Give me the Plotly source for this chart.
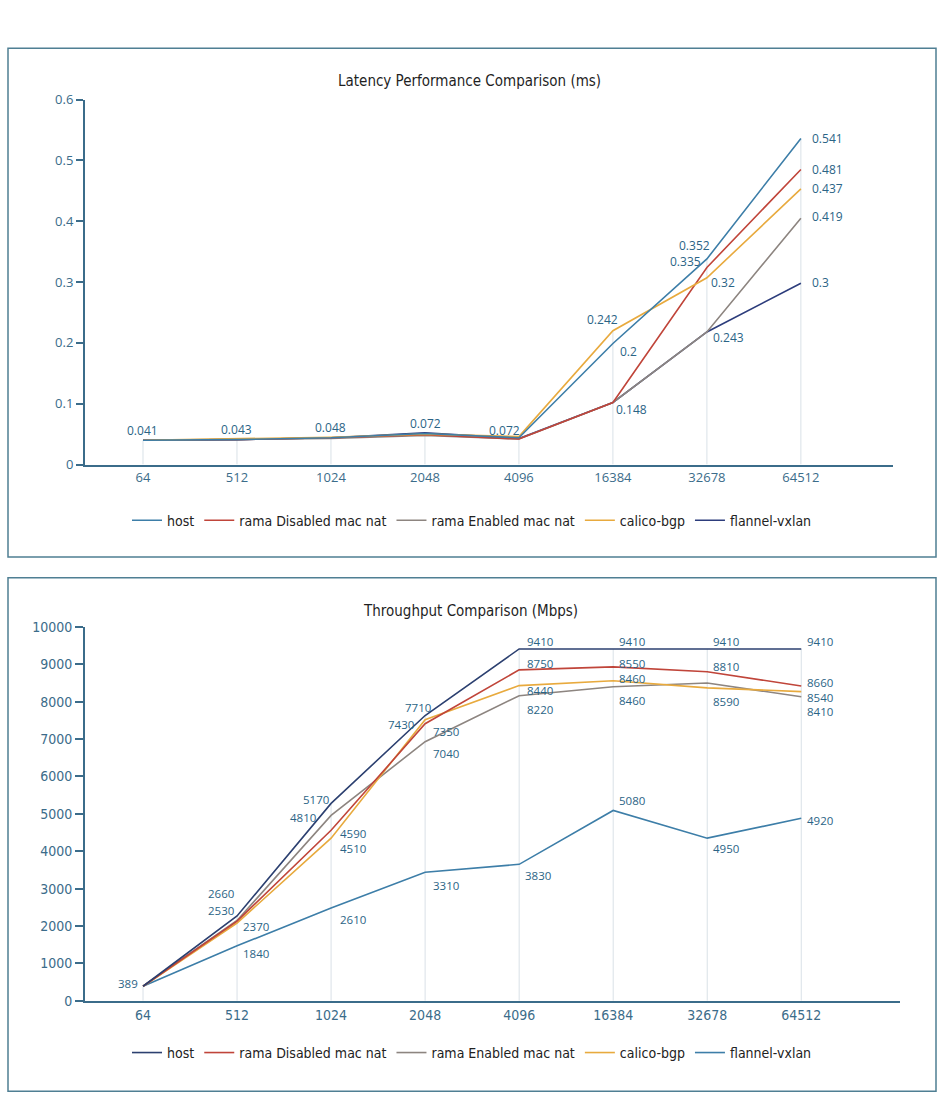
import plotly.graph_objects as go

# ---------------- data ----------------
categories = ["64", "512", "1024", "2048", "4096", "16384", "32678", "64512"]
series_names = ["host", "rama Disabled mac nat", "rama Enabled mac nat", "calico-bgp", "flannel-vxlan"]

# Latency (ms) – plotted line values
lat_host = [0.040, 0.041, 0.044, 0.051, 0.044, 0.199, 0.338, 0.536]
lat_rama_dis = [0.040, 0.041, 0.044, 0.049, 0.042, 0.102, 0.324, 0.485]
lat_rama_en = [0.040, 0.041, 0.043, 0.048, 0.042, 0.102, 0.218, 0.405]
lat_calico = [0.040, 0.042, 0.045, 0.050, 0.046, 0.220, 0.307, 0.453]
lat_flannel = [0.040, 0.041, 0.044, 0.052, 0.043, 0.102, 0.218, 0.298]

# Latency data labels (text shown on chart)
lat_lbl_host = ["0.041", "0.043", "0.048", "0.072", "0.072", "0.2", "0.352", "0.541"]
lat_lbl_rama_dis = [None, None, None, None, None, None, "0.335", "0.481"]
lat_lbl_rama_en = [None, None, None, None, None, "0.148", "0.243", "0.419"]
lat_lbl_calico = [None, None, None, None, None, "0.242", "0.32", "0.437"]
lat_lbl_flannel = [None, None, None, None, None, None, None, "0.3"]

# Throughput (Mbps) – plotted line values
tp_host = [389, 2270, 5280, 7630, 9410, 9410, 9410, 9410]
tp_rama_dis = [389, 2130, 4560, 7410, 8850, 8930, 8800, 8420]
tp_rama_en = [389, 2150, 4960, 6930, 8160, 8400, 8500, 8130]
tp_calico = [389, 2080, 4350, 7520, 8430, 8560, 8370, 8270]
tp_flannel = [389, 1470, 2480, 3440, 3650, 5090, 4350, 4880]

# Throughput data labels
tp_lbl_host = [None, "2660", "5170", "7710", "9410", "9410", "9410", "9410"]
tp_lbl_rama_dis = [None, None, "4590", "7430", "8750", "8550", "8810", "8660"]
tp_lbl_rama_en = [None, "2530", "4810", "7040", "8220", "8460", None, "8410"]
tp_lbl_calico = [None, "2370", "4510", "7350", "8440", "8460", "8590", "8540"]
tp_lbl_flannel = ["389", "1840", "2610", "3310", "3830", "5080", "4950", "4920"]

lat_ticks = [0, 0.1, 0.2, 0.3, 0.4, 0.5, 0.6]
tp_ticks = [0, 1000, 2000, 3000, 4000, 5000, 6000, 7000, 8000, 9000, 10000]

# ---------------- styles ----------------
W, H = 944, 1120
AXIS_COL = "#3b6c8a"
LABEL_COL = "#2b6486"
DROP_COL = "#d9e1e7"
BORDER_COL = "#4f7f93"
NARROW = "Liberation Sans Narrow, DejaVu Sans Condensed, Arial Narrow, sans-serif"
LBLFONT = "Open Sans, Noto Sans, sans-serif"

lat_colors = ["#3d7ea8", "#c0453a", "#8d8580", "#e8aa3e", "#2d3d7c"]
tp_colors = ["#2c4070", "#c0453a", "#8d8580", "#e8aa3e", "#3d7ea8"]

# label pixel offsets (dx, dy[up]) keyed by (series index, category index)
lat_off = {
    (0, 0): (0, 10), (0, 1): (0, 10), (0, 2): (0, 10), (0, 3): (1, 10), (0, 4): (-14, 7),
    (0, 5): (16, -8), (0, 6): (-12, 13), (0, 7): ("r", 0),
    (1, 6): (-21, 6), (1, 7): ("r", 0),
    (2, 5): (19, -7), (2, 6): (22, -6), (2, 7): ("r", 2),
    (3, 5): (-10, 11), (3, 6): (16, -5), (3, 7): ("r", 0),
    (4, 7): ("r", 1),
}
tp_off = {
    (0, 1): (-16, 22), (0, 2): (-15, 4), (0, 3): (-7, 8),
    (0, 4): (21, 7), (0, 5): (19, 7), (0, 6): (19, 7), (0, 7): (19, 7),
    (1, 2): (22, -3), (1, 3): (-24, -1), (1, 4): (21, 6), (1, 5): (19, 3), (1, 6): (19, 5), (1, 7): (19, 3),
    (2, 1): (-16, 10), (2, 2): (-28, -2), (2, 3): (21, -12), (2, 4): (21, -14), (2, 5): (19, -14), (2, 7): (19, -15),
    (3, 1): (19, -3), (3, 2): (22, -10), (3, 3): (21, -12), (3, 4): (21, -5), (3, 5): (19, 2), (3, 6): (19, -14), (3, 7): (19, -6),
    (4, 0): (-15, 3), (4, 1): (19, -8), (4, 2): (22, -11), (4, 3): (21, -13), (4, 4): (19, -11), (4, 5): (19, 10), (4, 6): (19, -10), (4, 7): (19, -2),
}

lat_series = [lat_host, lat_rama_dis, lat_rama_en, lat_calico, lat_flannel]
lat_labels = [lat_lbl_host, lat_lbl_rama_dis, lat_lbl_rama_en, lat_lbl_calico, lat_lbl_flannel]
tp_series = [tp_host, tp_rama_dis, tp_rama_en, tp_calico, tp_flannel]
tp_labels = [tp_lbl_host, tp_lbl_rama_dis, tp_lbl_rama_en, tp_lbl_calico, tp_lbl_flannel]

xi = list(range(len(categories)))

fig = go.Figure()


def drop_lines(series, xa, ya):
    xs, ys = [], []
    for i in xi:
        top = max(s[i] for s in series)
        xs += [i, i, None]
        ys += [0, top, None]
    fig.add_trace(go.Scatter(x=xs, y=ys, mode="lines", xaxis=xa, yaxis=ya,
                             line=dict(color=DROP_COL, width=1), hoverinfo="skip",
                             showlegend=False))


drop_lines(lat_series, "x", "y")
drop_lines(tp_series, "x2", "y2")

# latency lines (draw so that host ends on top)
for k in [4, 2, 1, 3, 0]:
    fig.add_trace(go.Scatter(x=xi, y=lat_series[k], mode="lines", name=series_names[k],
                             line=dict(color=lat_colors[k], width=1.6),
                             xaxis="x", yaxis="y", legend="legend", legendrank=k + 1))
for k in [4, 2, 3, 1, 0]:
    fig.add_trace(go.Scatter(x=xi, y=tp_series[k], mode="lines", name=series_names[k],
                             line=dict(color=tp_colors[k], width=1.6),
                             xaxis="x2", yaxis="y2", legend="legend2", legendrank=k + 1))

annotations = []


def add_labels(series, labels, offs, xref, yref, size):
    for k, (vals, lbls) in enumerate(zip(series, labels)):
        for i, t in enumerate(lbls):
            if t is None:
                continue
            dx, dy = offs.get((k, i), (0, 10))
            common = dict(x=i, y=vals[i], xref=xref, yref=yref, text=t, showarrow=False,
                          yanchor="middle", yshift=dy,
                          font=dict(family=LBLFONT, size=size, color=LABEL_COL))
            if dx == "r":
                annotations.append(dict(xanchor="left", xshift=9, **common))
            else:
                annotations.append(dict(xanchor="center", xshift=dx, **common))


add_labels(lat_series, lat_labels, lat_off, "x", "y", 12)
add_labels(tp_series, tp_labels, tp_off, "x2", "y2", 11.5)

# titles
annotations.append(dict(x=469 / W, y=1 - 73 / H, xref="paper", yref="paper", showarrow=False,
                        text="Latency Performance Comparison (ms)", xanchor="center", yanchor="middle",
                        font=dict(family=NARROW, size=15, color="#1f1f1f")))
annotations.append(dict(x=470 / W, y=1 - 612 / H, xref="paper", yref="paper", showarrow=False,
                        text="Throughput Comparison (Mbps)", xanchor="center", yanchor="middle",
                        font=dict(family=NARROW, size=15, color="#1f1f1f")))

shapes = [
    dict(type="rect", xref="paper", yref="paper", x0=8 / W, x1=936 / W, y0=1 - 557 / H, y1=1 - 40 / H,
         line=dict(color=BORDER_COL, width=1.5)),
    dict(type="rect", xref="paper", yref="paper", x0=8 / W, x1=936 / W, y0=1 - 1100 / H, y1=1 - 578 / H,
         line=dict(color=BORDER_COL, width=1.5)),
]

axis_common = dict(showgrid=False, zeroline=False, showline=True, linecolor=AXIS_COL, linewidth=2)

fig.update_layout(
    width=W, height=H, margin=dict(l=0, r=0, t=0, b=0),
    paper_bgcolor="white", plot_bgcolor="white",
    annotations=annotations, shapes=shapes,
    xaxis=dict(domain=[85 / W, 893 / W], range=[-0.617, 7.98], tickmode="array", tickvals=xi,
               ticktext=categories, ticks="", anchor="y",
               tickfont=dict(family=LBLFONT, size=13, color=AXIS_COL), **axis_common),
    yaxis=dict(domain=[1 - 463 / H, 1 - 92 / H], range=[0, 0.6], tickmode="array", tickvals=lat_ticks,
               ticktext=[("%g" % v) for v in lat_ticks], ticks="outside", ticklen=7, tickwidth=1.5,
               tickcolor=AXIS_COL, anchor="x",
               tickfont=dict(family=LBLFONT, size=13, color=AXIS_COL), **axis_common),
    xaxis2=dict(domain=[85 / W, 900 / W], range=[-0.617, 8.05], tickmode="array", tickvals=xi,
                ticktext=categories, ticks="", anchor="y2",
                tickfont=dict(family=NARROW, size=14, color=AXIS_COL), **axis_common),
    yaxis2=dict(domain=[1 - 1008 / H, 1 - 628 / H], range=[0, 10000], tickmode="array", tickvals=tp_ticks,
                ticktext=[str(v) for v in tp_ticks], ticks="outside", ticklen=8, tickwidth=1.5,
                tickcolor=AXIS_COL, anchor="x2",
                tickfont=dict(family=NARROW, size=14, color=AXIS_COL), **axis_common),
    legend=dict(orientation="h", x=0.5, xanchor="center", y=1 - 520 / H, yanchor="middle",
                font=dict(family=NARROW, size=14, color="#222222"), traceorder="normal",
                itemwidth=30, bgcolor="rgba(0,0,0,0)"),
    legend2=dict(orientation="h", x=0.5, xanchor="center", y=1 - 1061 / H, yanchor="middle",
                 font=dict(family=NARROW, size=14, color="#222222"), traceorder="normal",
                 itemwidth=30, bgcolor="rgba(0,0,0,0)"),
    showlegend=True,
)

fig.write_html("out.html",
               post_script="document.body.style.margin='0';document.body.style.padding='0';")
